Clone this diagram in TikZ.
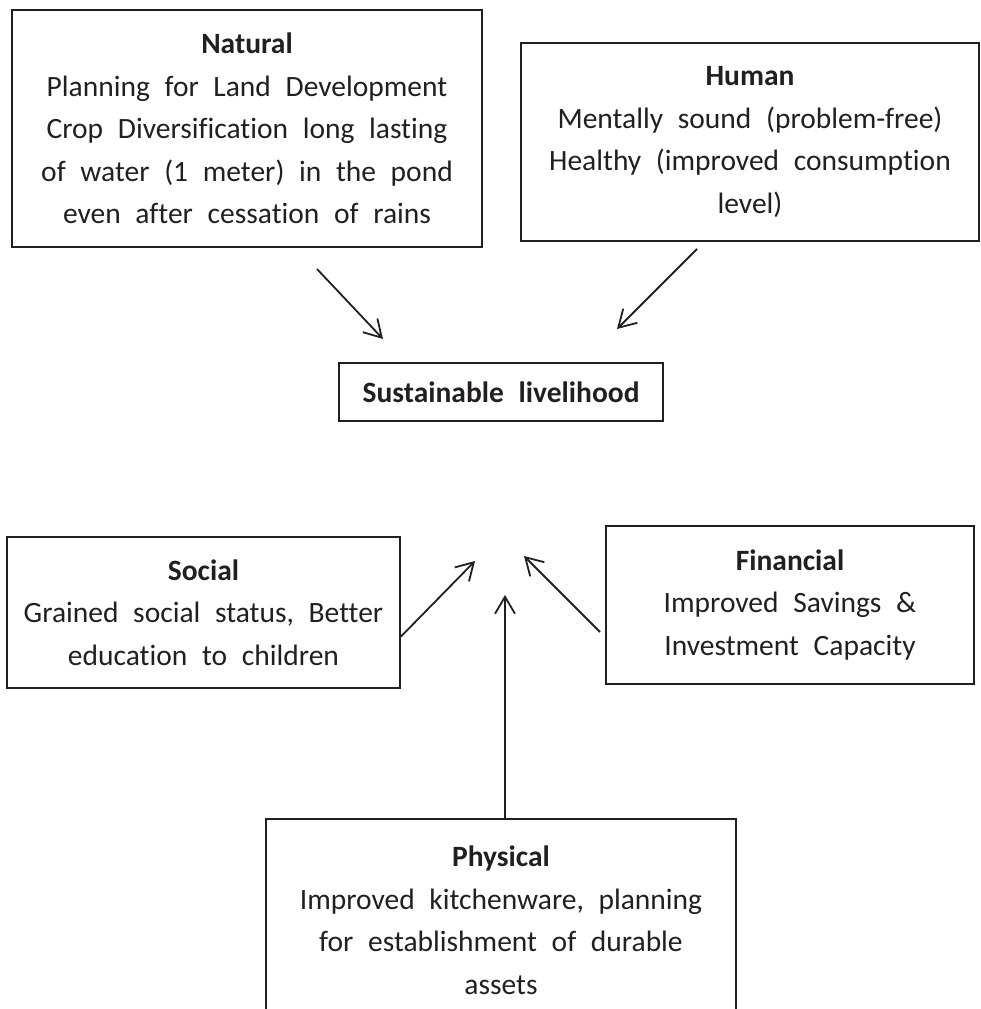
\documentclass[tikz,border=0pt]{standalone}
\usepackage{xcolor}
\usepackage{fontspec}
\setmainfont[WordSpace=2.2, Ligatures=NoCommon]{Carlito}
\usetikzlibrary{arrows.meta}
\definecolor{ink}{RGB}{35,31,32}

\begin{document}
\begin{tikzpicture}[x=1pt, y=-1pt]
	\tikzstyle{box} = [draw=ink, text=ink, line width=2pt, align=center, inner sep=0pt, font=\fontsize{29.5}{42.5}\selectfont]
	\tikzstyle{line} = [draw=ink, line width=1.8pt, -{Straight Barb[length=17pt, width=20pt]}]
	
	\useasboundingbox (0,0) rectangle (980,1009);
	
	\node [box, minimum width=470pt, minimum height=237pt] (natural) at (247,128.5) {\textbf{Natural}\\Planning for Land Development\\Crop Diversification long lasting\\of water (1 meter) in the pond\\even after cessation of rains};
	\node [box, minimum width=458pt, minimum height=198pt] (human) at (750,142) {\textbf{Human}\\Mentally sound (problem-free)\\Healthy (improved consumption\\level)};
	\node [box, minimum width=324pt, minimum height=58pt] (sl) at (501,392) {\textbf{Sustainable livelihood}};
	\node [box, minimum width=393pt, minimum height=151pt] (social) at (203.5,612.5) {\textbf{Social}\\Grained social status, Better\\education to children};
	\node [box, minimum width=368pt, minimum height=158pt] (financial) at (790,605) {\textbf{Financial}\\Improved Savings \&\\Investment Capacity};
	\node [box, minimum width=470pt, minimum height=202pt] (physical) at (501,920) {\textbf{Physical}\\Improved kitchenware, planning\\for establishment of durable\\assets};
	
	\coordinate (natTail) at (317,269);
	\coordinate (natTip) at (383,339);
	\coordinate (humTail) at (697,249);
	\coordinate (humTip) at (617,329);
	\coordinate (socTip) at (475,561);
	\coordinate (finTip) at (524,556);
	\coordinate (phyTip) at (505,595);
	
	\path [line] (natTail) -- (natTip);
	\path [line] (humTail) -- (humTip);
	\path [line] ([yshift=-24pt]social.east) -- (socTip);
	\path [line] ([xshift=-5pt, yshift=-27pt]financial.west) -- (finTip);
	\path [line] ([xshift=4pt]physical.north) -- (phyTip);
\end{tikzpicture}
\end{document}
